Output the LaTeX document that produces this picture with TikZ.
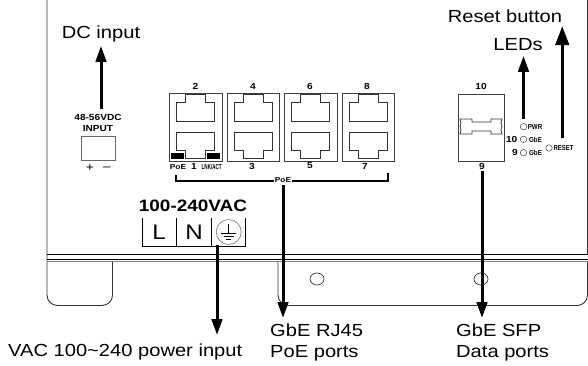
\documentclass[tikz,border=0pt]{standalone}
\usepackage{fontspec}
\setmainfont[FakeStretch=1.15]{Liberation Sans}
\usetikzlibrary{arrows.meta, positioning, shapes.geometric}

\begin{document}
\begin{tikzpicture}[
  x=1pt, y=-1pt,
  callout/.style={font=\fontsize{17.5}{21}\selectfont, inner sep=0pt, align=left}, % Big labels
  panel/.style={font=\fontsize{8.8}{9.5}\selectfont\bfseries, inner sep=0pt, align=center}, % Printed on the panel
  tiny/.style={font=\fontsize{7.2}{8}\selectfont\bfseries, inner sep=0pt},
  chassis/.style={draw=black!80, line width=0.9pt},
  portbox/.style={draw=black!75, line width=0.9pt, inner sep=0pt, anchor=north west},
  portline/.style={draw=black!80, line width=0.8pt},
  led/.style={circle, draw=black!75, line width=0.5pt, minimum size=6.5pt, inner sep=0pt},
  hole/.style={ellipse, draw=black!80, line width=0.7pt, minimum width=14pt, minimum height=12pt, inner sep=0pt},
  pointer/.style={line width=3pt, -{Triangle[length=16pt, width=10.5pt]}},
  bigpointer/.style={line width=3pt, -{Triangle[length=19pt, width=13.5pt]}}
]
\useasboundingbox (0,0) rectangle (588,365);

% Chassis outline and mounting ears
\draw[chassis] (47,0) -- (47,295) arc[start angle=180, end angle=90, radius=10.5] -- (102,305.5)
  arc[start angle=90, end angle=0, radius=10.5] -- (112.5,261);
\draw[chassis] (278,261) -- (278,295) arc[start angle=180, end angle=90, radius=10.5] -- (577,305.5)
  arc[start angle=90, end angle=0, radius=10.5] -- (587.5,261);
\draw[chassis] (587,0) -- (587,255);
\draw[black, line width=0.9pt] (47,254.7) -- (588,254.7);
\draw[black, line width=0.9pt] (47,259.5) -- (588,259.5);
\draw[black!50, line width=0.9pt] (47,261.3) -- (588,261.3);
\node[hole] (hole1) at (317,279) {};
\node[hole] (hole2) at (481,279) {};

% DC terminal
\node[panel] (vdc) at (98,123) {48-56VDC\\[1pt]INPUT};
\node[draw=black!60, line width=0.9pt, minimum width=34pt, minimum height=24.7pt, inner sep=0pt] (dcterm) at (98,148.4) {};
\node[font=\fontsize{12}{12}\selectfont, inner sep=0pt] (plus) at (90,168) {+};
\node[font=\fontsize{12}{12}\selectfont, inner sep=0pt] (minus) at (107,168.5) {–};
\node[callout] (dcin) at (101,33.5) {DC input};

% RJ45 ports
\foreach \bx/\bw/\up/\ux/\dn/\lx in {169.3/52.4/2/195.5/1/194, 227.3/51.4/4/253/3/252, 284/52.7/6/310/5/310, 342/51.7/8/367/7/365} {
  \node[portbox, minimum width=\bw pt, minimum height=67.7pt] (box\up) at (\bx,93) {};
  \node[panel] (num\up) at (\ux,86.7) {\up};
  \node[panel] (num\dn) at (\lx,166) {\dn};
  \draw[portline, shift={(\bx,0)}] (7,121.3) -- (7,102.7) -- (16,102.7) -- (16,94.3) -- (36,94.3)
    -- (36,102.7) -- (45.3,102.7) -- (45.3,121.3) -- cycle;
  \draw[portline, shift={(\bx,0)}] (7,132) -- (45.3,132) -- (45.3,150.3) -- (36,150.3) -- (36,158.7)
    -- (16,158.7) -- (16,150.3) -- (7,150.3) -- cycle;
}
\fill (171,152.7) rectangle (184.3,158.7);
\fill (206.7,152.7) rectangle (220,158.7);
\node[tiny] (poeleft) at (178,167) {PoE};
\node[tiny] (lnk) at (211.7,167) {\scalebox{0.55}[1]{LNK/ACT}};

% PoE bracket
\draw[line width=2.4pt] (175.7,175) -- (175.7,181) -- (387.7,181) -- (387.7,173);
\node[tiny, fill=white, inner xsep=1pt, inner ysep=1.5pt] (poemid) at (283,180.5) {PoE};

% SFP cage
\node[portbox, minimum width=45.7pt, minimum height=67pt] (sfp) at (458,93.7) {};
\node[panel] (num10) at (481,86.7) {10};
\node[panel] (num9) at (482,166) {9};
\draw[portline] (460,119) -- (472,119) -- (472,122) -- (491,122) -- (491,119) -- (502,119)
  -- (501,123) -- (502,126) -- (501,130) -- (502,134) -- (491,134) -- (491,131) -- (472,131)
  -- (472,134) -- (460,134) -- (461,130) -- (460,126) -- (461,123) -- cycle;

% LEDs
\node[led] (ledpwr) at (523.5,126.7) {};
\node[led] (led10) at (523.5,139.3) {};
\node[led] (led9) at (523.5,152.7) {};
\node[led] (ledreset) at (549,148) {};
\node[tiny] (pwrlab) at (535,127) {\scalebox{0.75}[1]{PWR}};
\node[tiny] (gbelab10) at (535.5,139.5) {\scalebox{0.75}[1]{GbE}};
\node[tiny] (gbelab9) at (535.5,153) {\scalebox{0.75}[1]{GbE}};
\node[panel] (lab10) at (511.7,139.3) {10};
\node[panel] (lab9) at (515,152.7) {9};
\node[tiny] (resetlab) at (563.5,148) {\scalebox{0.72}[1]{RESET}};
\node[callout] (ledsin) at (518,45) {LEDs};
\node[callout] (resetin) at (505,16) {Reset button};

% AC terminal
\node[font=\fontsize{16.5}{16.5}\selectfont\bfseries, inner sep=0pt] (vac) at (193,206) {100-240VAC};
\draw[black, line width=0.8pt] (142.7,218) -- (142.7,246) -- (245.7,246) -- (245.7,218);
\draw[black, line width=0.8pt] (176,218) -- (176,246);
\draw[black, line width=0.8pt] (211.7,218) -- (211.7,246);
\node[font=\fontsize{21}{21}\selectfont, inner sep=0pt] (linel) at (159,232) {L};
\node[font=\fontsize{21}{21}\selectfont, inner sep=0pt] (linen) at (194,232) {N};
\node[circle, draw=black!50, line width=0.7pt, minimum size=25pt, inner sep=0pt] (gnd) at (228.7,232) {};
\draw[line width=0.6pt] (228.7,224) -- (228.7,233);
\draw[line width=0.6pt] (221,233) -- (236.4,233);
\draw[line width=0.6pt] (223.5,236) -- (233.9,236);
\draw[line width=0.6pt] (226,239) -- (231.4,239);

% Bottom labels
\node[callout, anchor=north west] (vacin) at (8,344) {VAC 100\textasciitilde240 power input};
\node[callout, anchor=north west] (rjin) at (270,323.5) {GbE RJ45\\PoE ports};
\node[callout, anchor=north west] (sfpin) at (456,323.5) {GbE SFP\\Data ports};

% Callout arrows
\draw[pointer, shorten <=5pt, shorten >=4pt] (dcin.south |- vdc.north) -- (dcin.south);
\draw[pointer, shorten <=4.5pt, shorten >=4.5pt] (ledpwr.north) -- (ledpwr.north |- ledsin.south);
\draw[bigpointer, shorten <=7pt, shorten >=3.5pt] (resetin.south east |- resetlab.north) -- (resetin.south east);
\draw[pointer, shorten >=9pt] ([xshift=-11.7pt]gnd.south) -- ([xshift=-11.7pt]gnd.south |- vacin.north);
\draw[pointer, shorten >=5.5pt] (poemid.south) -- (poemid.south |- rjin.north);
\draw[pointer, shorten <=2pt, shorten >=5.5pt] (num9.south) -- (num9.south |- sfpin.north);
\end{tikzpicture}
\end{document}
